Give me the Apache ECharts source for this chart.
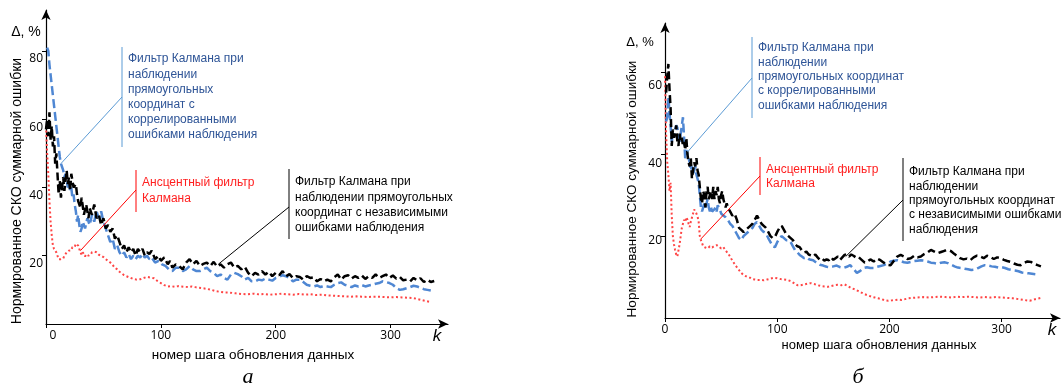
<!DOCTYPE html>
<html>
<head>
<meta charset="utf-8">
<script src="https://cdn.jsdelivr.net/npm/echarts@6/dist/echarts.min.js"></script>
<style>
  html, body { margin: 0; padding: 0; background: #fff; }
  #chart { width: 1062px; height: 387px; }
</style>
</head>
<body>
<div id="chart"></div>
<script>
// tick values
const xTicks = [0, 100, 200, 300];
const yTicksLeft = [20, 40, 60, 80];
const yTicksRight = [20, 40, 60];

// chart (а): [k, Δ %]
const leftIndep = [[0,57],[1,60],[2,55],[3,62],[4,54],[5,58],[6,52],[7,55],[8,47],[9,50],[10,44],[11,38],[12,42],[13,37],[14,40],[15,43],[16,39],[17,42],[18,45],[19,41],[20,43],[21,39],[22,44],[24,40],[26,41],[27,38],[28,36],[30,34],[31,37],[33,32],[35,35],[37,31],[38,34],[40,32],[42,35],[44,31],[46,32],[48,29],[50,31],[52,28],[54,29],[56,27],[58,28],[60,25],[62,26],[64,24],[66,22],[68,23],[70,21],[72,22.5],[74,21],[76,22],[78,20],[80,22],[82,21],[84,22],[86,20],[88,21],[90,20.5],[92,21.5],[95,19],[98,20],[100,18.5],[103,19.5],[106,17.5],[108,18.5],[110,16.5],[113,17.5],[116,17],[119,16],[122,18],[125,19],[128,17.5],[131,18.5],[134,17],[137,17.6],[140,18],[143,17],[146,18.2],[149,16.8],[152,17.5],[155,16.5],[158,17.5],[161,18],[164,16.5],[167,17],[170,16],[173,16.8],[176,15],[179,14],[182,15],[185,14.5],[188,15.5],[191,14.5],[194,15.3],[197,14],[200,15],[203,14.3],[206,15.5],[209,14],[212,14.6],[215,13.5],[218,14],[221,13.8],[224,13],[227,14],[230,13.5],[233,13.7],[236,12.5],[239,13.2],[242,12.5],[245,13],[248,12.5],[251,13.7],[254,14.5],[257,13],[260,14],[263,14.3],[266,13.3],[269,14],[272,13.5],[275,14.2],[278,13.2],[281,14],[284,13.5],[287,14.5],[290,13.5],[293,14],[296,14.5],[299,13.5],[302,14.2],[305,13.3],[308,13.8],[311,12.8],[314,13],[317,12.5],[320,13.5],[323,12.8],[326,13.4],[329,12.3],[332,13],[335,12.3],[338,12.6]];
const leftCorr = [[1,81],[2,80],[3,76],[4,73],[5,70],[6,67],[7,64],[8,61],[9,58],[10,55],[11,52],[12,49],[13,47],[14,46],[15,45],[16,43],[17,44],[18,42],[19,40],[20,42],[21,39],[22,40],[23,37],[24,38],[25,35],[26,33],[27,30],[28,32],[29,29],[30,27],[31,28],[32,30],[34,28],[36,31],[38,29],[40,32],[42,30],[44,33],[46,31],[48,33],[50,30],[52,28],[54,26],[56,24],[58,25],[60,22],[62,23],[64,21],[66,20],[68,21],[70,19.5],[72,20.5],[74,19],[76,20],[78,19],[80,20],[82,19.5],[84,20.5],[86,19.5],[88,20],[90,19],[92,19.5],[95,18],[98,18.5],[101,17.5],[104,17],[107,16],[110,15.5],[113,16.5],[116,16.5],[119,15.5],[122,16],[125,17],[128,16],[131,15.5],[134,15.5],[137,16],[140,16.5],[143,15.5],[146,15],[149,14],[152,14.5],[155,13.5],[158,13],[161,14.5],[164,15],[167,14.6],[170,14],[173,13],[176,13.5],[179,12.5],[182,12.5],[185,13],[188,12.8],[191,13.3],[194,13],[197,12.7],[200,13.5],[203,13.8],[206,14.3],[209,14],[212,13.5],[215,12.5],[218,13],[221,13],[224,12.3],[227,11.5],[230,11.2],[233,11],[236,11.3],[239,10.8],[242,11.2],[245,11],[248,10.8],[251,11.5],[254,12],[257,12.2],[260,11.5],[263,11.2],[266,10.8],[269,11.3],[272,11],[275,11.4],[278,11],[281,11.3],[284,11.5],[287,11.8],[290,12],[293,12.5],[296,12.3],[299,12],[302,11.5],[305,10.5],[308,10],[311,10.2],[314,10.5],[317,10.8],[320,11.2],[323,11],[326,10.6],[329,10.2],[332,10],[335,9.8]];
const leftUkf = [[0,58],[1,50],[2,44],[3,36],[4,30],[5,26],[6,23],[7,22],[8,21.5],[9,21],[10,20],[11,19],[12,18.5],[13,19],[14,19.5],[15,19.2],[16,20],[17,20.5],[18,21],[19,20.6],[20,21.5],[21,22],[22,21.6],[23,22.5],[24,23],[25,22.6],[26,23.5],[27,23.8],[28,23],[29,22],[30,21],[31,20.3],[32,21],[33,20.5],[34,19.8],[35,20.4],[36,20.8],[37,20],[38,19.6],[39,20.4],[40,21],[41,20.5],[42,21.2],[43,20.8],[44,21],[46,20.3],[48,20],[50,19.6],[52,19],[54,18.5],[56,18],[58,17.3],[60,16.5],[62,16],[64,15.3],[66,14.8],[68,14.3],[70,14],[73,13.6],[76,13.2],[79,13],[82,13.1],[85,13.5],[88,13.8],[91,13.6],[94,13.4],[97,12.6],[100,12],[103,11.4],[106,11],[109,11.1],[112,10.9],[115,11.1],[118,11],[121,10.9],[124,10.8],[127,11],[130,10.8],[133,10.6],[136,10.5],[140,10.3],[144,10],[148,9.6],[152,9.4],[156,9.2],[160,9.2],[165,9],[170,8.8],[175,8.7],[180,8.9],[185,8.7],[190,8.8],[195,8.6],[200,8.7],[205,8.9],[210,8.7],[215,8.6],[220,8.8],[225,8.6],[230,8.7],[235,8.5],[240,8.6],[245,8.4],[250,8.3],[255,8.2],[260,8.1],[265,8],[270,8.1],[275,8],[280,7.9],[285,8],[290,8],[295,7.9],[300,7.8],[305,7.9],[310,7.8],[315,7.7],[320,7.6],[325,7.2],[330,6.8],[335,6.4]];

// chart (б): [k, Δ %]
const rightIndep = [[1,55],[2,59],[3,62],[4,56],[5,51],[6,42],[7,46],[8,44],[9,45],[10,47],[11,43],[12,42],[13,45],[14,43],[15,44],[16,42],[17,43],[18,41],[19,44],[20,40],[21,38],[22,37],[23,39],[24,34],[25,36],[26,38],[27,37],[28,39],[29,36],[30,35],[31,32],[32,29],[33,28],[34,31],[35,30],[36,27],[37,31],[38,32],[39,29],[40,30],[41,31],[42,29],[43,32],[44,29],[45,31],[46,30],[47,32],[48,29],[49,28],[50,30],[51,31],[52,29],[53,28],[54,27],[55,28],[56,27],[57,27],[58,26],[60,25],[62,25.5],[64,24],[66,22],[68,21.5],[70,21],[72,21.5],[74,22],[76,22.5],[78,23],[80,24],[82,25],[84,24],[86,23],[88,22.5],[90,22],[92,21],[94,20],[96,19.5],[98,19.8],[100,21],[102,22],[104,22.5],[106,21.5],[108,20.5],[110,20],[112,19.5],[114,19],[116,18],[118,17.5],[120,17.3],[122,16.5],[124,16],[126,16.2],[128,15.5],[130,15.3],[132,15],[134,15.5],[136,14.8],[138,14.2],[140,14.5],[142,14],[144,14.3],[146,14.1],[148,14.8],[150,14.2],[152,14.6],[154,15],[156,14.2],[158,14.8],[160,15.4],[162,15.6],[164,15],[166,15.5],[168,15.2],[170,14.8],[172,15],[174,14.5],[176,14],[178,13.5],[180,13.7],[183,14.3],[186,13.8],[189,14.5],[192,14.1],[195,13.5],[198,13],[201,12.9],[204,14],[207,15],[210,15.4],[213,15],[216,14.4],[219,14.6],[222,15.2],[225,14.8],[228,15],[231,15.6],[234,16],[237,16.6],[240,16.2],[243,15.8],[246,16.1],[249,16.4],[252,16.6],[255,16.3],[258,15.6],[261,15],[263,14.6],[266,14.3],[269,14.5],[272,14.1],[275,14.8],[278,15.2],[281,15],[284,14.6],[287,15.2],[290,14.9],[293,14.4],[296,14.8],[299,14.6],[302,14.2],[305,13.9],[308,13.7],[311,13.3],[314,13],[317,12.9],[320,13.4],[323,13.8],[326,13.7],[329,13.2],[332,12.9],[335,12.6]];
const rightCorr = [[1,48],[2,49],[3,54],[4,50],[5,47],[6,43],[7,45],[8,44],[9,46],[10,47],[11,46.5],[12,44],[13,43],[14,45],[15,47],[16,49],[17,44],[18,39],[19,41],[20,40],[21,39],[22,38],[23,36],[24,37],[25,35],[26,36],[27,37],[28,35],[29,34],[30,33],[31,30],[32,27],[33,26],[34,27],[35,28],[36,27],[37,28],[38,29],[39,27],[40,26],[41,27],[42,26],[43,25.6],[44,26.5],[45,27],[46,26],[47,27.5],[48,27],[49,26.5],[50,25.5],[52,25],[54,24.6],[56,24],[58,23],[60,22.5],[62,21.5],[64,20.5],[66,19.5],[68,19],[70,20],[72,20.5],[74,21],[76,21.5],[78,22],[80,23],[82,23.4],[84,22.5],[86,21.5],[88,21],[90,20.7],[92,19.5],[94,18.5],[96,17.5],[98,17.3],[100,18.5],[102,19.5],[104,20],[106,19.5],[108,19],[110,19],[112,18.5],[114,17.5],[116,16.5],[118,16],[120,15.4],[122,15],[124,14.6],[126,14.8],[128,14.4],[130,14.2],[132,14.1],[135,13.5],[138,13],[141,12.8],[144,12.5],[147,12.4],[150,12.6],[153,12.8],[156,12.4],[159,12.2],[162,12.5],[165,12.9],[168,12],[171,11],[174,11.5],[177,12.2],[180,12.4],[183,12.2],[186,12.2],[189,12.5],[192,12.7],[195,12.9],[198,13.3],[201,13.8],[204,14],[207,14.1],[210,13.9],[213,13.6],[216,13.5],[219,13.7],[222,13.9],[225,14],[228,14.1],[231,14],[234,13.8],[237,13.5],[240,13.4],[243,13.2],[246,13.5],[249,13.6],[252,13.4],[255,13],[258,12.6],[261,12.3],[264,12.2],[267,12],[270,11.9],[273,11.7],[276,11.8],[279,12.2],[282,12.6],[285,12.9],[288,12.8],[291,12.6],[294,12.5],[297,12.3],[300,12.4],[303,12.2],[306,11.9],[309,11.7],[312,11.6],[315,11.4],[318,11.1],[321,11],[324,10.9],[327,10.8],[330,10.7]];
const rightUkf = [[0,59],[1,45],[2,38],[3,35],[4,31],[5,33],[6,25],[7,20],[8,18],[9,16.6],[10,15.5],[11,15],[12,15.3],[13,18],[14,20],[15,22],[16,23],[17,24],[18,23.5],[19,24.6],[20,24],[21,23],[22,22.2],[23,23.5],[24,24.5],[25,25.5],[26,26.5],[27,26.3],[28,25.5],[29,24.8],[30,23.5],[31,20],[32,19],[33,18.3],[34,17.5],[35,17.8],[36,17.2],[37,17.3],[38,17],[40,17.5],[42,17.2],[44,17.6],[46,17.8],[48,17.4],[50,17],[52,17.3],[54,16.5],[56,15.8],[58,15],[60,14],[62,13.2],[64,12.4],[66,11.7],[68,11],[70,10.5],[72,10.2],[74,9.9],[76,9.8],[78,9.5],[80,9.4],[82,9.3],[85,9.3],[88,9.2],[91,9.4],[94,9.6],[97,9.8],[100,9.7],[103,9.5],[106,9.4],[109,9.3],[112,9],[115,8.5],[118,8],[121,8],[124,8.2],[127,8.4],[130,8.5],[133,8.3],[136,8],[139,7.8],[142,7.7],[145,7.6],[148,7.8],[151,8],[154,8.1],[157,8],[160,8.2],[163,7.8],[166,7.3],[169,7],[172,6.6],[175,6.2],[178,5.8],[181,5.5],[184,5.2],[187,5],[190,4.8],[193,4.6],[196,4.3],[199,4.2],[202,4.3],[205,4.4],[208,4.5],[211,4.4],[214,4.6],[217,4.8],[220,4.9],[225,5],[230,5.1],[235,5],[240,5.1],[245,5.2],[250,5.1],[255,5],[260,5.2],[265,5.1],[270,5.2],[275,5.1],[280,5],[285,5.1],[290,5],[295,5.1],[300,5],[305,4.9],[310,4.8],[315,4.6],[320,4.4],[325,4.2],[330,4.6],[335,4.9]];

// where the callout lines touch the curves
const leftAnchors = { corr: [13, 47], ukf: [30, 21.5], indep: [150, 17.5] };
const rightAnchors = { corr: [20, 40.5], ukf: [32, 19.3], indep: [161, 15] };

const SANS = '"Liberation Sans", Arial, sans-serif';
const TICK_FONT = '"Open Sans", "Liberation Sans", sans-serif';
const C_BLACK = '#000000';
const C_BLUE = '#4f87d3';
const C_BLUE_TXT = '#2f5597';
const C_BLUE_LINE = '#5b9bd5';
const C_RED = '#ff4545';
const C_RED_TXT = '#ff1f1f';

const chart = echarts.init(document.getElementById('chart'), null, { renderer: 'canvas' });

// zeroShift: the left panel's "0" is drawn a few px right of the axis
function xAxisCfg(gridIndex, max, zeroShift) {
  return {
    type: 'value', gridIndex, min: 0, max,
    axisLine: { show: true, symbol: ['none', 'arrow'], symbolSize: [7, 10], lineStyle: { color: '#000', width: 1.2 } },
    axisTick: { show: true, length: 4, customValues: xTicks, lineStyle: { color: '#000' } },
    axisLabel: {
      customValues: xTicks, margin: 6,
      formatter: v => (v === 0 ? '{z|0}' : '{n|' + v + '}'),
      rich: {
        z: { fontSize: 12, fontFamily: TICK_FONT, color: '#000', padding: [0, 0, 0, zeroShift * 2] },
        n: { fontSize: 12, fontFamily: TICK_FONT, color: '#000' }
      }
    },
    splitLine: { show: false }
  };
}
// labels in the source sit a little below their ticks
function yAxisCfg(gridIndex, max, ticks, shiftOf) {
  const rich = {};
  ticks.forEach(t => {
    rich['v' + t] = { fontSize: 12, fontFamily: TICK_FONT, color: '#000', padding: [shiftOf(t) * 2, 0, 0, 0] };
  });
  return {
    type: 'value', gridIndex, min: 0, max,
    axisLine: { show: true, symbol: ['none', 'arrow'], symbolSize: [7, 10], lineStyle: { color: '#000', width: 1.2 } },
    axisTick: { show: true, length: 4, customValues: ticks, lineStyle: { color: '#000' } },
    axisLabel: { customValues: ticks, margin: 3, formatter: v => '{v' + v + '|' + v + '}', rich },
    splitLine: { show: false }
  };
}
function lineSeries(name, idx, data, color, dash, width, z) {
  return {
    name, type: 'line', xAxisIndex: idx, yAxisIndex: idx, data,
    showSymbol: false, symbol: 'none', z,
    lineStyle: { color, width, type: dash },
    silent: true
  };
}

chart.setOption({
  animation: false,
  backgroundColor: '#fff',
  grid: [
    { left: 46, right: 614, top: 10, bottom: 63, outerBoundsMode: 'none' },
    { left: 665, right: 2, top: 23, bottom: 69, outerBoundsMode: 'none' }
  ],
  xAxis: [xAxisCfg(0, 350, 7), xAxisCfg(1, 352, 0)],
  yAxis: [
    yAxisCfg(0, 92, yTicksLeft, () => 8),
    yAxisCfg(1, 72, yTicksRight, t => 0.23 * t)
  ],
  series: [
    lineSeries('УКФ а', 0, leftUkf, C_RED, [2, 2.5], 2, 2),
    lineSeries('корр а', 0, leftCorr, C_BLUE, [9, 4], 2.5, 3),
    lineSeries('незав а', 0, leftIndep, C_BLACK, [8, 4], 2.5, 4),
    lineSeries('УКФ б', 1, rightUkf, C_RED, [2, 2.5], 2, 2),
    lineSeries('корр б', 1, rightCorr, C_BLUE, [9, 4], 2.5, 3),
    lineSeries('незав б', 1, rightIndep, C_BLACK, [8, 4], 2.5, 4)
  ]
});

function px(idx, p) {
  return chart.convertToPixel({ xAxisIndex: idx, yAxisIndex: idx }, p);
}
function callout(idx, anchor, barX, barY1, barY2, fromY, text, txtY, lh, color, barColor) {
  const end = px(idx, anchor);
  return [
    { type: 'line', silent: true, z: 20, shape: { x1: barX, y1: barY1, x2: barX, y2: barY2 }, style: { stroke: barColor, lineWidth: 1 } },
    { type: 'line', silent: true, z: 20, shape: { x1: barX, y1: fromY, x2: end[0], y2: end[1] }, style: { stroke: barColor, lineWidth: 1 } },
    { type: 'text', silent: true, z: 20, x: barX + 6, y: txtY,
      style: { text, fill: color, font: '12px ' + SANS, lineHeight: lh, verticalAlign: 'top', align: 'left' } }
  ];
}
function label(x, y, text, font, extra) {
  return Object.assign({ type: 'text', silent: true, z: 20, x, y,
    style: { text, fill: '#000', font, align: 'center', verticalAlign: 'middle' } }, extra || {});
}

const g = [].concat(
  callout(0, leftAnchors.corr, 122, 47, 147, 97,
    'Фильтр Калмана при\nнаблюдении\nпрямоугольных\nкоординат с\nкоррелированными\nошибками наблюдения', 51.5, 15.2, C_BLUE_TXT, C_BLUE_LINE),
  callout(0, leftAnchors.ukf, 136, 170, 212, 190,
    'Ансцентный фильтр\nКалмана', 175.5, 15.2, C_RED_TXT, '#ff0000'),
  callout(0, leftAnchors.indep, 289, 169, 239, 207,
    'Фильтр Калмана при\nнаблюдении прямоугольных\nкоординат с независимыми\nошибками наблюдения', 174.5, 15.2, '#000', '#000'),
  callout(1, rightAnchors.corr, 752, 37, 118, 78,
    'Фильтр Калмана при\nнаблюдении\nпрямоугольных координат\nс коррелированными\nошибками наблюдения', 41, 14.3, C_BLUE_TXT, C_BLUE_LINE),
  callout(1, rightAnchors.ukf, 760, 157, 195, 176,
    'Ансцентный фильтр\nКалмана', 163, 13.8, C_RED_TXT, '#ff0000'),
  callout(1, rightAnchors.indep, 903, 158, 241, 200,
    'Фильтр Калмана при\nнаблюдении\nпрямоугольных координат\nс независимыми ошибками\nнаблюдения', 165, 14.3, '#000', '#000'),
  [
    label(26, 32, 'Δ, %', '14px ' + SANS),
    label(640, 42, 'Δ, %', '13px ' + SANS),
    label(17, 191, 'Нормированное СКО суммарной ошибки', '14px ' + SANS, { rotation: Math.PI / 2 }),
    label(632, 189, 'Нормированное СКО суммарной ошибки', '13.5px ' + SANS, { rotation: Math.PI / 2 }),
    label(253, 355, 'номер шага обновления данных', '13.5px ' + SANS),
    label(879, 345, 'номер шага обновления данных', '13px ' + SANS),
    label(437, 336, 'k', 'italic 17px ' + SANS),
    label(1052, 330, 'k', 'italic 17px ' + SANS),
    label(248, 377, 'а', 'italic 22px "Liberation Serif", serif'),
    label(858, 377, 'б', 'italic 22px "Liberation Serif", serif')
  ]
);

chart.setOption({ graphic: { elements: g } });
</script>
</body>
</html>
